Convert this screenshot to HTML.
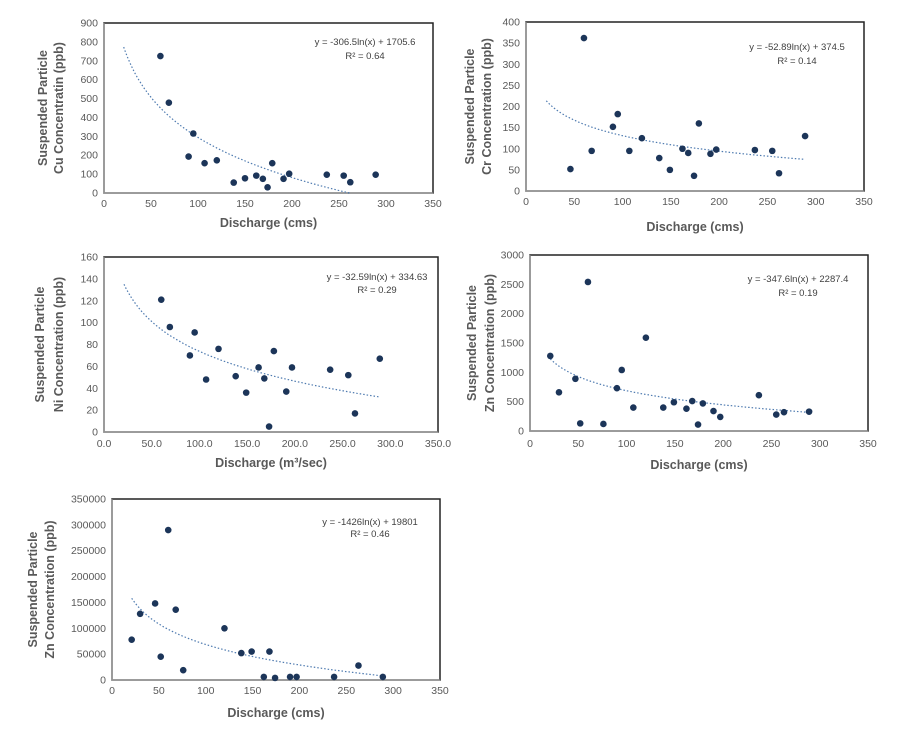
<!DOCTYPE html>
<html><head><meta charset="utf-8"><style>
body{margin:0;background:#fff;}
svg{display:block;font-family:"Liberation Sans",sans-serif;}
</style></head><body>
<svg id="s" width="902" height="737" viewBox="0 0 902 737"></svg>
<script>
// Chart 1 Cu
const cuX=[60,69,90,95,107,120,138,150,162,169,174,179,191,197,237,255,262,289];
const cuY=[725,478,193,315,158,173,55,78,92,75,30,158,75,102,97,92,57,97];
// Chart 2 Cr
const crX=[46,60,68,90,95,107,120,138,149,162,168,174,179,191,197,237,255,262,289];
const crY=[52,362,95,152,182,95,125,78,50,100,90,36,160,88,98,97,95,42,130];
// Chart 3 Ni
const niX=[60,69,90,95,107,120,138,149,162,168,173,178,191,197,237,256,263,289];
const niY=[121,96,70,91,48,76,51,36,59,49,5,74,37,59,57,52,17,67];
// Chart 4 Zn
const znX=[21,30,47,52,60,76,90,95,107,120,138,149,162,168,174,179,190,197,237,255,263,289];
const znY=[1280,660,890,130,2540,120,730,1040,400,1590,400,490,380,510,110,470,340,240,610,280,320,330];
// Chart 5 Zn (second)
const zn2X=[21,30,46,52,60,68,76,120,138,149,168,162,174,190,197,237,263,289];
const zn2Y=[78000,128000,148000,45000,290000,136000,19000,100000,52000,55000,55000,6000,4000,6000,6000,6000,28000,6000];
// Tick labels
const xTicksA=["0","50","100","150","200","250","300","350"];
const xTicksNi=["0.0","50.0","100.0","150.0","200.0","250.0","300.0","350.0"];
const cuTicks=[0,100,200,300,400,500,600,700,800,900];
const crTicks=[0,50,100,150,200,250,300,350,400];
const niTicks=[0,20,40,60,80,100,120,140,160];
const znTicks=[0,500,1000,1500,2000,2500,3000];
const zn2Ticks=[0,50000,100000,150000,200000,250000,300000,350000];
// Trend coefficients [a,b] for y=a ln(x)+b (as drawn)
const cuTrend=[-306.5,1705.6];
const crTrend=[-52.89,374.5];
const niTrend=[-39.3,254.7];
const znTrend=[-347.6,2287.4];
const zn2Trend=[-57230,332250];

const NS="http://www.w3.org/2000/svg";
const svg=document.getElementById('s');
function mk(tag,attrs,parent){const e=document.createElementNS(NS,tag);for(const k in attrs)e.setAttribute(k,attrs[k]);(parent||svg).appendChild(e);return e;}

const charts=[
 {id:'cu',L:104,R:433,T:23,B:193,ymax:900,xs:cuX,ys:cuY,yt:cuTicks,xt:xTicksA,tr:cuTrend,xl:207,xtY:227,xtitle:'Discharge (cms)',ytx:[47,63],yl:['Suspended Particle','Cu Concentratin (ppb)'],eq:['y = -306.5ln(x) + 1705.6','R² = 0.64'],ex:365,ey:[45,59]},
 {id:'cr',L:526,R:864,T:22,B:191,ymax:400,xs:crX,ys:crY,yt:crTicks,xt:xTicksA,tr:crTrend,xl:205,xtY:231,xtitle:'Discharge (cms)',ytx:[474,491],yl:['Suspended Particle','Cr Concentration  (ppb)'],eq:['y = -52.89ln(x) + 374.5','R² = 0.14'],ex:797,ey:[50,64]},
 {id:'ni',L:104,R:438,T:257,B:432,ymax:160,xs:niX,ys:niY,yt:niTicks,xt:xTicksNi,tr:niTrend,xl:447,xtY:467,xtitle:'Discharge (m³/sec)',ytx:[44,63],yl:['Suspended Particle','Ni Concentration  (ppb)'],eq:['y = -32.59ln(x) + 334.63','R² = 0.29'],ex:377,ey:[280,293]},
 {id:'zn',L:530,R:868,T:255,B:431,ymax:3000,xs:znX,ys:znY,yt:znTicks,xt:xTicksA,tr:znTrend,xl:447,xtY:469,xtitle:'Discharge (cms)',ytx:[476,494],yl:['Suspended Particle','Zn Concentration  (ppb)'],eq:['y = -347.6ln(x) + 2287.4','R² = 0.19'],ex:798,ey:[282,296]},
 {id:'zn2',L:112,R:440,T:499,B:680,ymax:350000,xs:zn2X,ys:zn2Y,yt:zn2Ticks,xt:xTicksA,tr:zn2Trend,xl:694,xtY:717,xtitle:'Discharge (cms)',ytx:[37,54],yl:['Suspended Particle','Zn Concentration  (ppb)'],eq:['y = -1426ln(x) + 19801','R² = 0.46'],ex:370,ey:[525,537]}
];

charts.forEach(c=>{
  const g=mk('g',{});
  
  
  const sx=v=>c.L+v/350*(c.R-c.L);
  const sy=v=>c.B-v/c.ymax*(c.B-c.T);
  const frame=mk('rect',{x:c.L,y:c.T,width:c.R-c.L,height:c.B-c.T,fill:'none',stroke:'#222','stroke-width':1.5},g);
  
  
  const ax=mk('path',{d:`M${c.L},${c.T}V${c.B}H${c.R}`,fill:'none',stroke:'#a6a6a6','stroke-width':1},g);
  
  
  c.yt.forEach(v=>{
    const t=mk('text',{x:c.L-6,y:sy(v)+3.5,'text-anchor':'end','font-size':10.5,fill:'#595959'},g);
    t.textContent=v;
    
    
  });
  c.xt.forEach((s,i)=>{
    const t=mk('text',{x:sx(i*50),y:c.xl,'text-anchor':'middle','font-size':10.5,fill:'#595959'},g);
    t.textContent=s;
    
    
  });
  const xt=mk('text',{x:(c.L+c.R)/2,y:c.xtY,'text-anchor':'middle','font-size':12.5,'font-weight':'bold',fill:'#595959'},g);
  xt.textContent=c.xtitle;
  
  
  c.yl.forEach((s,i)=>{
    const cy=(c.T+c.B)/2;
    const t=mk('text',{x:c.ytx[i],y:cy,'text-anchor':'middle','font-size':12.5,'font-weight':'bold',fill:'#595959',transform:`rotate(-90 ${c.ytx[i]} ${cy})`},g);
    t.textContent=s;
    
    
  });
  let d='';
  for(let x=21;x<=289;x+=2){let y=c.tr[0]*Math.log(x)+c.tr[1];if(y<0)break;if(y>c.ymax)continue;d+=(d?'L':'M')+sx(x).toFixed(1)+','+sy(y).toFixed(1);}
  const tl=mk('path',{d:d,fill:'none',stroke:'#4f7bb0','stroke-width':1.2,'stroke-dasharray':'1.5,2'},g);
  
  
  c.xs.forEach((x,i)=>{
    const p=mk('circle',{cx:sx(x),cy:sy(c.ys[i]),r:3.3,fill:'#1c3559'},g);
    
    
  });
  c.eq.forEach((s,i)=>{
    const t=mk('text',{x:c.ex,y:c.ey[i],'text-anchor':'middle','font-size':9.5,fill:'#404040'},g);
    t.textContent=s;
    
    
  });
});
</script>
</body></html>
